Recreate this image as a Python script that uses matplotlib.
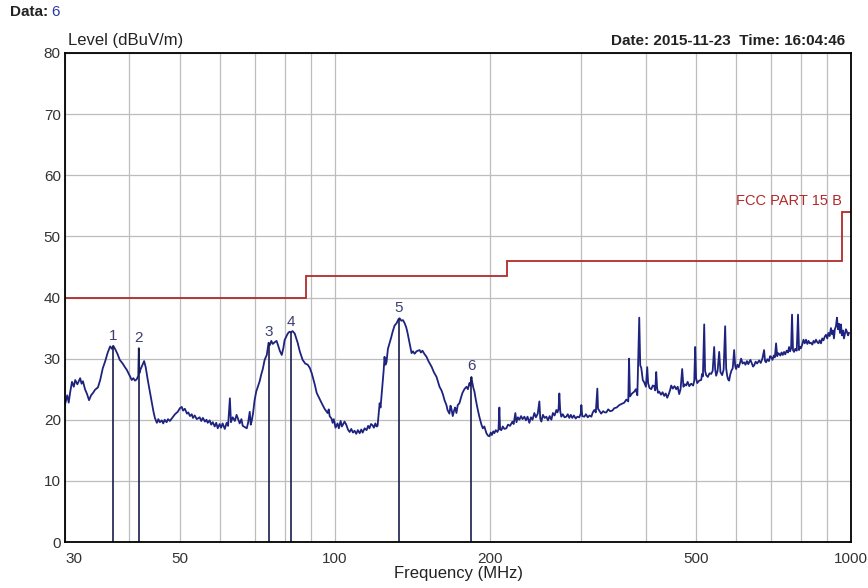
import numpy as np
import matplotlib.pyplot as plt
from matplotlib.ticker import FixedLocator, NullFormatter

plt.rcParams['font.family'] = ['Liberation Sans', 'DejaVu Sans']

# measured trace, MHz / dBuV/m
freq = [30.0, 30.3, 30.5, 30.7, 30.95, 31.2, 31.4, 31.7, 32.1, 32.3, 32.5, 32.8, 33.1, 33.4, 33.7, 34.0,
        34.3, 34.75, 35.1, 35.5, 35.9, 36.3, 36.7, 37.0, 37.2, 37.5, 37.9, 38.3, 38.8, 39.2, 39.5, 40.1,
        40.4, 40.7, 41.0, 41.3, 41.6, 41.7, 41.8, 42.0, 42.3, 42.7, 43.0, 43.4, 43.8, 44.2, 44.5, 44.8,
        45.2, 45.5, 45.8, 46.2, 46.5, 46.8, 47.2, 47.5, 47.9, 48.5, 49.0, 49.6, 50.1, 50.5, 50.8, 51.2,
        51.7, 52.0, 52.4, 52.8, 53.1, 53.5, 54.0, 54.7, 55.1, 55.5, 56.0, 56.4, 56.7, 57.2, 57.6, 58.0,
        58.5, 58.9, 59.3, 59.8, 60.2, 60.6, 61.2, 61.7, 62.1, 62.6, 62.9, 63.4, 64.0, 64.5, 65.0, 65.4,
        65.9, 66.3, 66.9, 67.5, 67.9, 68.4, 68.7, 69.0, 69.4, 69.9, 70.4, 70.9, 71.5, 72.0, 72.5, 73.1,
        73.8, 74.4, 74.8, 75.3, 75.8, 76.5, 77.1, 77.6, 78.2, 78.9, 79.5, 79.9, 80.7, 81.2, 81.7, 82.1,
        82.8, 83.6, 84.7, 85.5, 86.6, 87.6, 88.6, 89.4, 90.2, 91.4, 92.2, 93.4, 94.3, 95.5, 96.8, 97.3,
        97.7, 98.5, 99.0, 99.5, 100.3, 101.2, 101.8, 102.6, 103.2, 104.4, 105.2, 106.0, 106.8, 107.6, 108.4, 109.2,
        110.0, 110.8, 111.7, 112.5, 113.2, 114.2, 115.2, 116.0, 116.7, 117.5, 118.3, 119.0, 119.8, 120.4, 121.0, 122.1,
        122.6, 123.7, 124.3, 124.8, 125.3, 125.9, 126.7, 127.6, 128.5, 129.4, 130.5, 131.7, 132.9, 133.5, 134.5, 135.5,
        136.5, 137.5, 138.3, 139.5, 140.8, 141.7, 142.7, 144.0, 145.9, 146.8, 147.8, 149.0, 150.5, 152.0, 153.9, 155.5,
        157.4, 159.5, 160.9, 162.0, 163.1, 164.5, 165.3, 166.7, 167.5, 168.2, 169.2, 170.2, 171.0, 172.0, 173.0, 174.3,
        175.5, 176.7, 178.2, 179.9, 181.0, 182.3, 183.0, 183.9, 184.5, 185.5, 186.4, 187.5, 188.9, 190.5, 192.3, 193.5,
        194.8, 196.6, 198.0, 199.3, 200.5, 201.5, 202.7, 203.7, 205.0, 206.5, 207.5, 208.3, 209.0, 210.2, 211.5, 213.0,
        214.9, 216.5, 218.5, 220.8, 222.0, 223.7, 224.8, 226.3, 227.8, 229.5, 231.0, 232.9, 234.5, 236.2, 238.1, 239.8,
        241.5, 243.5, 245.2, 247.2, 249.0, 250.0, 251.2, 253.0, 254.9, 256.9, 258.8, 260.7, 262.7, 264.5, 266.5, 268.6,
        270.0, 271.3, 272.2, 273.3, 274.6, 276.5, 278.6, 280.8, 282.6, 284.6, 286.5, 288.4, 290.5, 292.8, 295.0, 297.5,
        299.5, 300.3, 301.5, 304.3, 306.5, 309.0, 311.5, 314.0, 316.0, 318.2, 320.3, 322.5, 323.5, 325.3, 328.0, 331.0,
        333.5, 335.7, 338.5, 341.5, 344.7, 348.0, 351.5, 355.7, 359.5, 363.7, 367.0, 370.2, 371.5, 373.0, 376.5, 380.3,
        383.0, 385.5, 388.8, 390.5, 392.3, 395.0, 397.6, 400.5, 402.9, 404.5, 407.0, 410.2, 413.0, 415.7, 417.5, 419.4,
        421.0, 423.0, 425.1, 428.5, 431.5, 434.6, 437.5, 440.5, 443.5, 446.0, 448.4, 451.5, 455.0, 458.5, 461.5, 464.7,
        467.5, 470.9, 473.5, 476.5, 479.4, 482.5, 486.0, 490.2, 494.5, 497.0, 499.0, 501.0, 503.5, 508.0, 512.6, 514.5,
        516.5, 519.5, 521.5, 524.1, 528.0, 532.0, 535.9, 539.5, 543.1, 545.5, 548.0, 551.5, 555.4, 558.5, 562.8, 566.5,
        570.4, 573.0, 575.5, 578.0, 580.6, 583.5, 587.0, 590.0, 593.7, 596.5, 599.0, 602.5, 606.0, 609.5, 612.5, 616.5,
        620.8, 624.5, 628.5, 632.5, 634.8, 638.5, 642.5, 646.0, 649.1, 653.5, 658.0, 663.7, 668.5, 673.5, 678.6, 681.5,
        684.7, 688.5, 693.5, 697.0, 700.1, 704.5, 708.5, 712.0, 715.9, 719.5, 722.5, 725.5, 729.5, 733.5, 737.5, 741.8,
        745.5, 750.5, 755.0, 758.5, 762.0, 765.5, 768.7, 772.0, 775.6, 780.0, 785.0, 789.5, 793.0, 796.5, 800.1, 805.0,
        809.0, 813.5, 818.2, 823.0, 827.5, 832.0, 836.6, 841.5, 846.0, 850.5, 855.4, 860.0, 865.0, 869.5, 874.7, 879.5,
        884.5, 889.5, 894.4, 899.5, 904.0, 909.0, 914.5, 918.5, 922.5, 926.8, 930.5, 935.0, 939.3, 943.5, 948.0, 952.0,
        956.2, 960.0, 965.0, 969.1, 973.0, 977.5, 982.1, 987.0, 991.0]
level = [22.5, 24.0, 22.8, 24.5, 26.2, 25.4, 26.5, 25.8, 26.8, 25.9, 26.3, 25.0, 24.2, 23.2, 24.0, 24.4,
         24.9, 25.3, 26.5, 28.4, 29.6, 31.0, 32.0, 31.6, 32.1, 31.6, 30.8, 29.8, 29.2, 28.6, 28.2, 27.1,
         26.5, 26.8, 26.4, 26.6, 27.2, 31.7, 27.6, 28.2, 28.8, 29.6, 28.6, 26.5, 24.6, 22.7, 21.4, 20.3,
         19.5, 20.1, 19.6, 19.9, 19.4, 20.0, 19.6, 20.1, 19.8, 20.4, 20.9, 21.3, 21.9, 22.1, 21.5, 21.8,
         21.0, 21.2, 20.6, 20.9, 20.3, 20.7, 20.1, 20.4, 19.8, 20.3, 19.7, 20.0, 19.5, 19.9, 19.2, 19.6,
         18.9, 19.5, 18.6, 19.3, 18.7, 19.4, 18.5, 19.5, 19.0, 23.5, 19.6, 20.4, 19.8, 20.8, 20.0, 19.4,
         20.1, 19.0, 18.8, 18.6, 19.5, 21.3, 19.2, 19.8, 21.0, 23.2, 24.6, 25.4, 26.3, 27.4, 28.3, 29.8,
         30.6, 32.6, 32.2, 32.9, 32.4, 32.7, 32.9, 32.2, 31.3, 30.6, 31.8, 33.0, 33.8, 34.2, 34.4, 34.3,
         34.5, 34.1, 32.6, 31.2, 29.8, 29.2, 29.0, 28.5, 27.6, 25.8, 24.4, 23.4, 22.7, 21.8, 21.1, 21.7,
         20.6, 20.2, 19.5, 20.1, 18.7, 19.4, 18.6, 19.8, 18.9, 19.7, 19.2, 18.4, 18.0, 18.5, 17.9, 18.2,
         17.7, 18.3, 17.8, 18.4, 17.9, 18.6, 18.3, 19.0, 18.6, 19.3, 19.1, 18.7, 19.4, 18.9, 19.0, 22.7,
         22.0, 26.0, 28.0, 30.3, 29.0, 29.4, 31.6, 32.5, 33.4, 34.4, 35.4, 35.8, 36.5, 36.6, 36.2, 36.3,
         35.8, 35.1, 34.2, 32.6, 30.9, 31.2, 30.8, 31.2, 31.4, 31.0, 31.3, 30.8, 30.3, 29.5, 28.7, 27.8,
         27.0, 25.4, 24.8, 24.1, 23.2, 22.4, 21.6, 21.0, 22.3, 21.8, 20.6, 21.5, 22.0, 21.1, 22.4, 22.7,
         23.6, 24.4, 25.0, 25.4, 25.0, 26.0, 25.6, 27.0, 26.2, 25.2, 24.6, 23.3, 21.9, 20.5, 19.2, 18.6,
         18.9, 17.8, 17.4, 17.3, 17.9, 17.5, 18.1, 17.8, 18.3, 18.0, 18.4, 22.0, 18.4, 18.3, 18.9, 18.5,
         18.6, 19.2, 19.0, 19.7, 19.3, 21.1, 19.6, 20.4, 20.0, 20.6, 20.1, 20.5, 19.9, 20.5, 19.5, 20.4,
         20.0, 21.1, 20.4, 21.0, 23.0, 20.2, 19.7, 20.8, 20.3, 20.5, 19.9, 20.6, 20.0, 21.1, 20.7, 21.6,
         21.2, 21.8, 24.3, 21.4, 20.5, 20.9, 20.4, 20.5, 20.9, 20.3, 20.8, 20.3, 20.7, 20.2, 20.5, 20.4,
         21.0, 22.4, 20.6, 20.5, 20.9, 20.4, 20.7, 20.5, 21.2, 21.6, 21.2, 25.1, 21.8, 21.5, 21.0, 21.4,
         21.2, 21.2, 21.7, 21.4, 21.5, 21.9, 22.0, 22.4, 22.6, 22.8, 23.3, 23.0, 30.0, 23.8, 24.3, 24.6,
         25.0, 24.0, 36.7, 28.9, 28.5, 26.5, 26.1, 25.4, 28.6, 26.0, 25.2, 25.0, 25.6, 25.5, 24.8, 27.8,
         25.2, 24.4, 24.6, 24.1, 24.5, 23.9, 24.3, 23.6, 24.2, 24.8, 25.6, 25.1, 25.5, 25.0, 25.4, 24.2,
         25.0, 28.3, 25.4, 25.8, 25.6, 26.2, 25.5, 25.9, 25.6, 26.4, 31.9, 26.8, 26.0, 26.4, 26.5, 27.5,
         27.1, 35.6, 28.0, 27.3, 27.0, 27.6, 27.5, 28.0, 31.9, 28.3, 27.2, 28.0, 31.1, 27.8, 27.3, 28.2,
         35.3, 28.4, 27.2, 26.6, 26.4, 27.4, 28.1, 28.4, 31.4, 28.8, 28.3, 29.0, 28.6, 29.3, 30.0, 29.2,
         29.4, 29.0, 29.6, 29.1, 29.4, 29.8, 29.2, 28.7, 28.9, 29.5, 29.2, 29.7, 29.3, 30.0, 31.4, 29.6,
         29.4, 29.9, 29.6, 30.4, 30.3, 29.8, 30.5, 30.2, 32.5, 30.4, 30.9, 30.8, 30.5, 31.0, 30.6, 31.1,
         30.7, 31.3, 31.0, 31.9, 31.2, 31.7, 37.2, 31.4, 31.1, 31.6, 31.3, 37.2, 31.4, 31.9, 31.7, 32.4,
         33.1, 32.5, 33.1, 32.4, 32.9, 32.5, 32.6, 32.3, 32.9, 32.6, 33.1, 32.7, 32.5, 33.0, 32.5, 33.3,
         33.0, 33.6, 33.9, 33.3, 34.2, 33.7, 35.0, 34.0, 34.6, 33.3, 34.8, 35.3, 36.7, 34.8, 35.7, 34.2,
         35.6, 33.8, 34.6, 33.3, 34.0, 34.8, 34.4, 33.8, 34.2]

# limit line FCC part 15 B (3 m)
limit_edges = [30, 88, 216, 960, 1000]
limit_level = [40.0, 43.5, 46.0, 54.0]

# peak markers
marker_num = ['1', '2', '3', '4', '5', '6']
marker_freq = [37.2, 41.7, 74.4, 82.1, 132.9, 183.9]
marker_level = [32.0, 31.7, 32.6, 34.3, 36.5, 27.0]

xtick_vals = [30, 50, 100, 200, 500, 1000]
grid_vals = [30, 40, 50, 60, 70, 80, 90, 100, 200, 300, 400, 500, 600, 700, 800, 900, 1000]

fig = plt.figure(figsize=(8.68, 5.88), dpi=100)
ax = fig.add_axes([65 / 868, 46 / 588, 786 / 868, 489 / 588])

ax.set_xscale('log')
ax.set_xlim(30, 1000)
ax.set_ylim(0, 80)

ax.xaxis.set_major_locator(FixedLocator(xtick_vals))
ax.xaxis.set_major_formatter(plt.FixedFormatter([str(v) for v in xtick_vals]))
ax.xaxis.set_minor_locator(FixedLocator(grid_vals))
ax.xaxis.set_minor_formatter(NullFormatter())
ax.set_yticks(range(0, 81, 10))
ax.grid(True, which='both', color='#bdbdbd', lw=0.9)
ax.set_axisbelow(True)
ax.tick_params(which='both', length=0, labelsize=11, labelcolor='#333333')
ax.tick_params(axis='x', pad=7)
ax.tick_params(axis='y', pad=3)
ax.get_xticklabels()[0].set_ha('left')
for s in ax.spines.values():
    s.set_color('black')
    s.set_linewidth(1.3)

ax.stairs(limit_level, limit_edges, baseline=None, color='#b22a2a', lw=1.3)
ax.text(962, 54.7, 'FCC PART 15 B', color='#b22a2a', fontsize=10.5, ha='right', va='bottom')

ax.plot(freq, level, color='#1d237e', lw=1.3)

for n, f, l in zip(marker_num, marker_freq, marker_level):
    ax.vlines(f, 0, l, color='#1a1d4e', lw=1.2)
    ax.text(f, l + 0.6, n, color='#3d3f6e', fontsize=11, ha='center', va='bottom')

fig.text(0.012, 0.968, 'Data:', color='#222222', fontsize=11, fontweight='bold', va='bottom')
fig.text(0.059, 0.968, '6', color='#2a3aa0', fontsize=11, va='bottom')
fig.text(0.078, 0.918, 'Level (dBuV/m)', color='#222222', fontsize=12, va='bottom')
fig.text(0.974, 0.918, 'Date: 2015-11-23  Time: 16:04:46', color='#222222', fontsize=11,
         fontweight='bold', ha='right', va='bottom')
ax.set_xlabel('Frequency (MHz)', fontsize=12, color='#222222', labelpad=0)

fig.savefig('out.png', dpi=100)
